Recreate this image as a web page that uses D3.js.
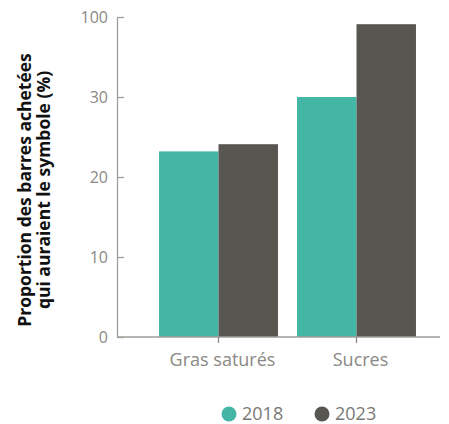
<!DOCTYPE html>
<html>
<head>
<meta charset="utf-8">
<script src="https://cdn.jsdelivr.net/npm/d3@7"></script>
<style>
    body { margin: 0; background: #fff; }
    text { font-family: "Open Sans", sans-serif; }
</style>
</head>
<body>
<svg id="chart"></svg>
<script>
// data
const categories = ['Gras saturés', 'Sucres'];
const years = ['2018', '2023'];
const values2018 = [23.2, 30.0];
const values2023 = [24.1, 39.1];
const tickValues = [0, 10, 20, 30, 40];
const tickLabels = ['0', '10', '20', '30', '100'];
const colors = ['#43b6a5', '#575651'];

const width = 449, height = 424;

const svg = d3.select('#chart')
    .attr('width', width)
    .attr('height', height);

let y = d3.scaleLinear()
    .domain([0, 40])
    .range([337, 17]);

// category bands
let x0 = d3.scaleBand()
    .domain(categories)
    .range([149.5, 425.5])
    .paddingInner(0.138)
    .paddingOuter(0.069);

let x1 = d3.scaleBand()
    .domain(years)
    .range([0, x0.bandwidth()]);

let rows = categories.map(function(c, i) {
    return {cat: c, vals: [values2018[i], values2023[i]]};
});

// bars
let groups = svg.selectAll('g.group')
    .data(rows)
    .enter().append('g')
    .attr('class', 'group')
    .attr('transform', function(d) { return 'translate(' + x0(d.cat) + ',0)'; });

groups.selectAll('rect')
    .data(function(d) { return d.vals.map(function(v, j) { return {year: years[j], value: v, color: colors[j]}; }); })
    .enter().append('rect')
    .attr('x', function(d) { return x1(d.year); })
    .attr('y', function(d) { return y(d.value); })
    .attr('width', x1.bandwidth())
    .attr('height', function(d) { return y(0) - y(d.value); })
    .attr('fill', function(d) { return d.color; });

// y axis, ticks pointing inward
let axisY = svg.append('g')
    .attr('transform', 'translate(117,0)')
    .call(d3.axisRight(y)
        .tickValues(tickValues)
        .tickFormat(function(d, i) { return tickLabels[i]; })
        .tickSize(7)
        .tickSizeOuter(0));
axisY.select('.domain').attr('stroke', '#a09e99').attr('stroke-width', 1.3);
axisY.selectAll('.tick line').attr('stroke', '#a09e99').attr('stroke-width', 1.3);
axisY.selectAll('.tick text')
    .attr('x', -9)
    .attr('text-anchor', 'end')
    .attr('fill', '#8a8985')
    .style('font-size', '16px');

// x axis
let axisX = svg.append('g')
    .attr('transform', 'translate(0,' + y(0) + ')')
    .call(d3.axisBottom(x0).tickSize(6).tickSizeOuter(0));
axisX.select('.domain')
    .attr('d', 'M117,0H440')
    .attr('stroke', '#a09e99').attr('stroke-width', 1.3);
axisX.selectAll('.tick line').attr('stroke', '#8a8985').attr('stroke-width', 1.3);
axisX.selectAll('.tick text')
    .attr('y', 16)
    .attr('dx', 4)
    .attr('fill', '#8a8985')
    .style('font-size', '18px');

// y title
let title = svg.append('text')
    .attr('transform', 'translate(31,190) rotate(-90)')
    .attr('text-anchor', 'middle')
    .style('font-size', '17.5px')
    .style('font-weight', 'bold')
    .attr('fill', '#111');
title.append('tspan').attr('x', 0).attr('dy', 0).text('Proportion des barres achetées');
title.append('tspan').attr('x', 0).attr('dy', 18.5).text('qui auraient le symbole (%)');

// legend
let legend = svg.append('g')
    .attr('transform', 'translate(229,414)');
let items = legend.selectAll('g')
    .data(years)
    .enter().append('g')
    .attr('transform', function(d, i) { return 'translate(' + i * 93 + ',0)'; });
items.append('circle')
    .attr('r', 7.5)
    .attr('fill', function(d, i) { return colors[i]; });
items.append('text')
    .attr('x', 13)
    .attr('dy', '0.35em')
    .attr('fill', '#7a7975')
    .style('font-size', '18px')
    .text(function(d) { return d; });
</script>
</body>
</html>
